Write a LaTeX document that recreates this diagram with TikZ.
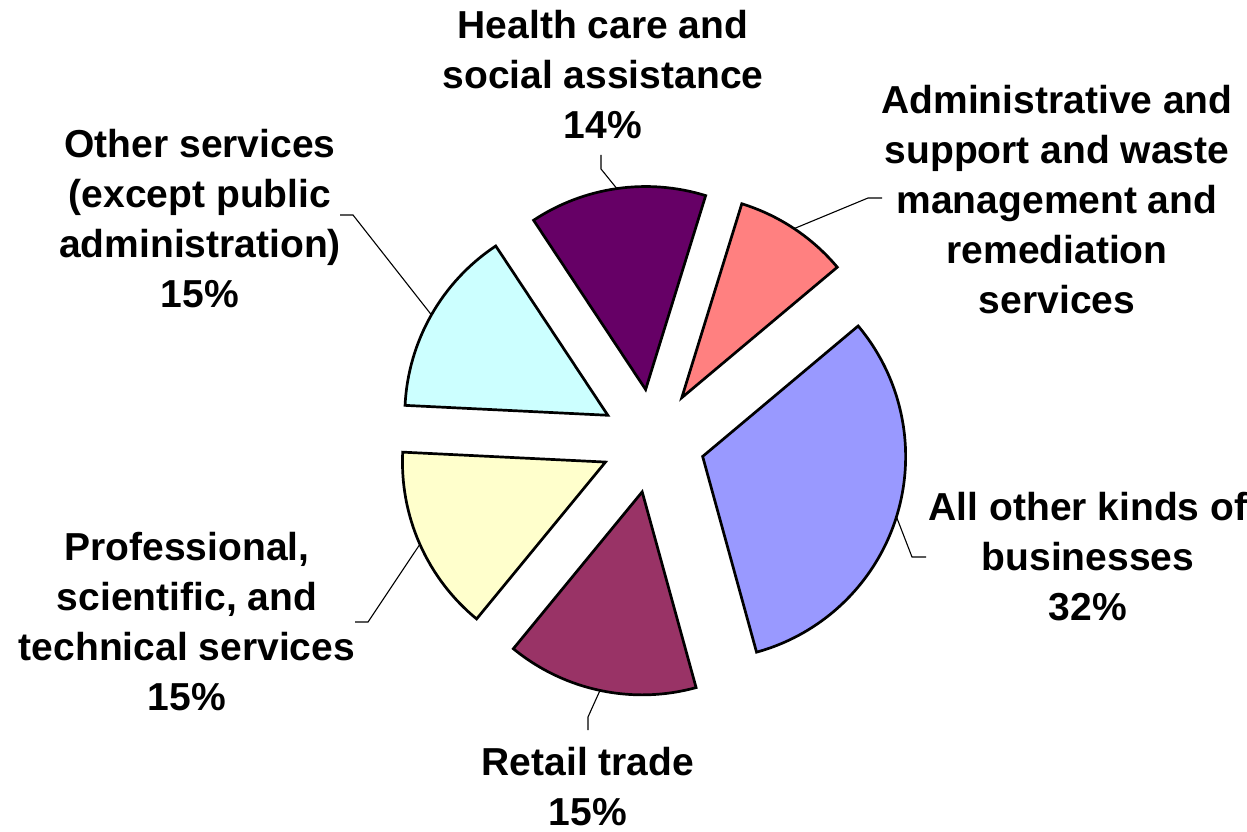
\documentclass[tikz,border=0pt]{standalone}
\usepackage{fontspec}
\setmainfont{Liberation Sans}
\usetikzlibrary{calc}
\definecolor{cAll}{HTML}{9999FF}
\definecolor{cAdm}{HTML}{FF8080}
\definecolor{cHea}{HTML}{660066}
\definecolor{cOth}{HTML}{CCFFFF}
\definecolor{cPro}{HTML}{FFFFCC}
\definecolor{cRet}{HTML}{993366}
\newcommand\myslice[4]{%
  \pgfmathsetmacro\midang{(#3+#4)/2}%
  \coordinate (#1-apex) at ($(\cx,\cy)+(\midang:\dd)$);%
  \coordinate (#1-edge) at ($(#1-apex)+(\midang:\rr)$);%
  \filldraw[slice,fill=#2] (#1-apex) -- ++(#3:\rr) arc[start angle=#3,end angle=#4,radius=\rr] -- cycle;%
}
\begin{document}
\begin{tikzpicture}[x=1pt,y=1pt,
  slice/.style={draw=black,line width=2.7pt},
  lbl/.style={font=\fontsize{39}{50}\selectfont\bfseries,align=center,inner sep=0pt},
  leader/.style={draw=black,line width=1.1pt}]
\useasboundingbox (0,0) rectangle (1247,831);
\def\cx{653}\def\cy{390}\def\dd{52}\def\rr{203}
\myslice{all}{cAll}{-74.6}{40}
\myslice{adm}{cAdm}{40}{72.8}
\myslice{hea}{cHea}{72.8}{123.5}
\myslice{oth}{cOth}{123.5}{177.2}
\myslice{pro}{cPro}{177.2}{230.6}
\myslice{ret}{cRet}{230.6}{285.4}
% labels
\node[lbl] (healthlbl) at (603,756) {Health care and\\social assistance\\14\%};
\node[lbl] (admlbl) at (1057,631) {Administrative and\\support and waste\\management and\\remediation\\services};
\node[lbl] (othlbl) at (200,612) {Other services\\(except public\\administration)\\15\%};
\node[lbl] (alllbl) at (1088,274) {All other kinds of\\businesses\\32\%};
\node[lbl] (prolbl) at (187,209) {Professional,\\scientific, and\\technical services\\15\%};
\node[lbl] (retlbl) at (588,44) {Retail trade\\15\%};
% leader coordinates
\coordinate (hea-b) at (601,662); \coordinate (hea-e) at (601,676);
\coordinate (adm-b) at (868,633); \coordinate (adm-e) at (882,633);
\coordinate (oth-b) at (353,616); \coordinate (oth-e) at (340,616);
\coordinate (all-b) at (912,274); \coordinate (all-e) at (926,274);
\coordinate (pro-b) at (368,209); \coordinate (pro-e) at (355,209);
\coordinate (ret-b) at (588,114); \coordinate (ret-e) at (588,101);
\foreach \s in {hea,adm,oth,all,pro,ret}{
  \draw[leader] (\s-edge) -- (\s-b) -- (\s-e);
}
\end{tikzpicture}
\end{document}
